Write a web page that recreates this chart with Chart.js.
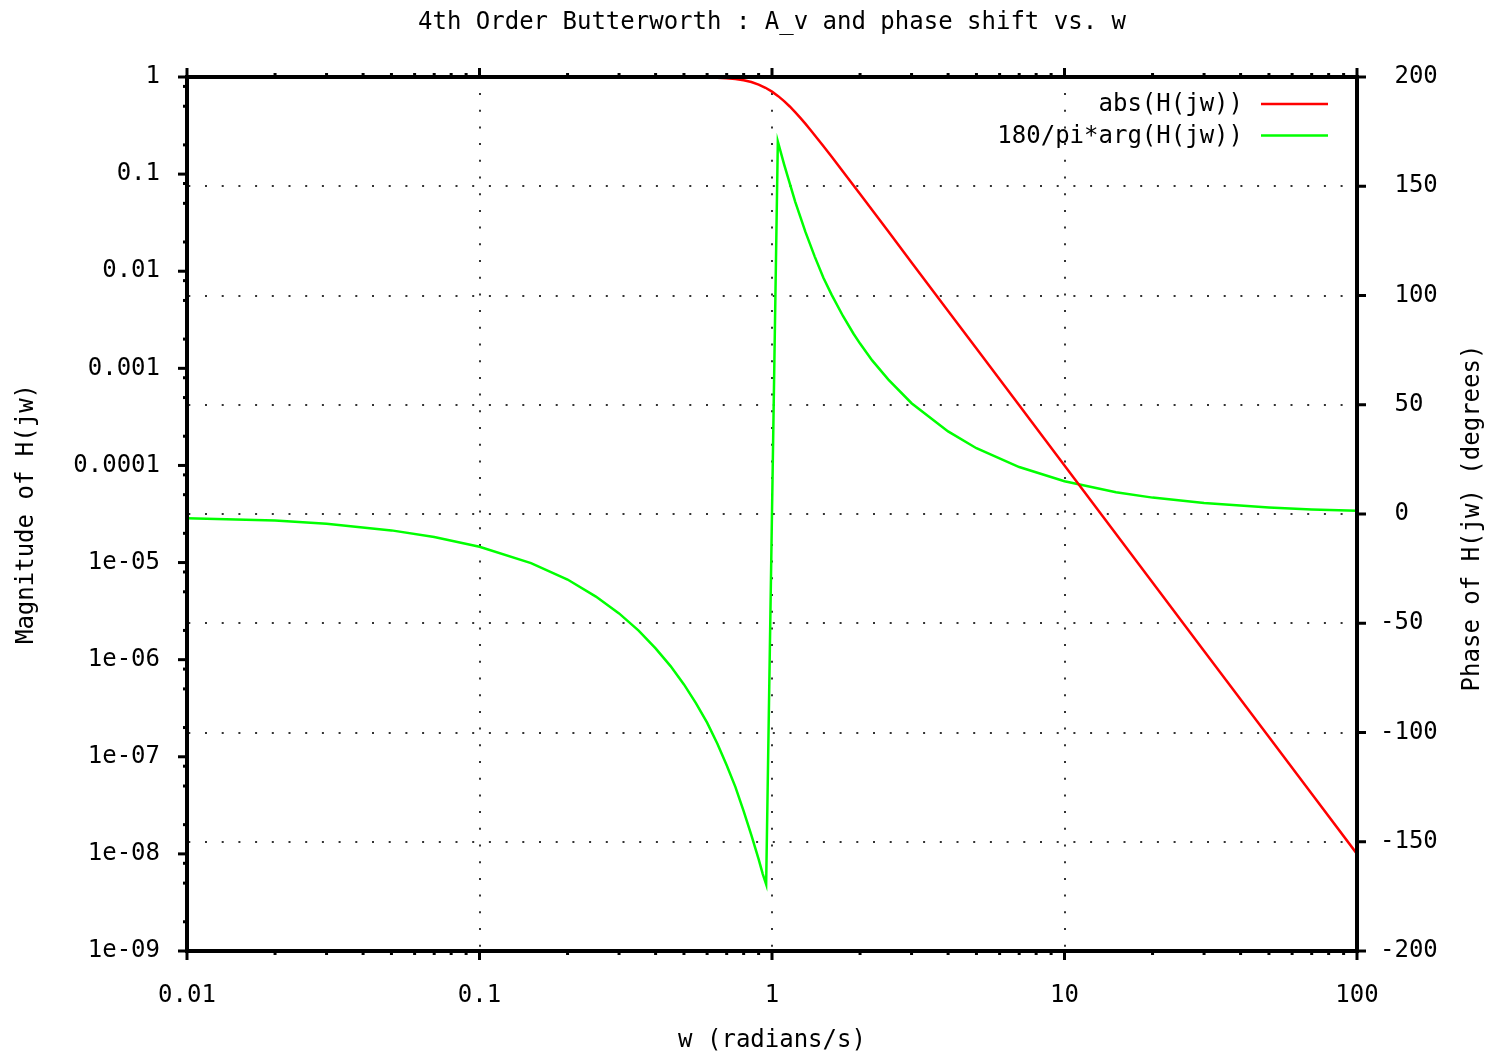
<!DOCTYPE html>
<html>
<head>
<meta charset="utf-8">
<script src="https://cdn.jsdelivr.net/npm/chart.js@4/dist/chart.umd.min.js"></script>
<style>
  body { margin: 0; background: #fff; }
  canvas { display: block; }
</style>
</head>
<body>
<canvas id="bode" width="1501" height="1056"></canvas>
<script>
// values
const magOmega = [0.52, 0.6, 0.65, 0.7, 0.75, 0.8, 0.85, 0.9, 0.95, 1, 1.05, 1.1, 1.15, 1.2, 1.25, 1.3, 1.35, 1.5, 1.6, 1.75, 2, 2.5, 3, 4, 5, 7, 10, 20, 30, 50, 70, 100]
const magnitude = [0.998, 0.992, 0.984, 0.972, 0.954, 0.925, 0.887, 0.836, 0.775, 0.707, 0.635, 0.564, 0.497, 0.434, 0.379, 0.331, 0.288, 0.194, 0.151, 0.106, 0.0624, 0.0256, 0.0123, 0.0039, 0.0016, 4.16e-4, 1e-4, 6.25e-6, 1.23e-6, 1.6e-7, 4.16e-8, 1e-8]

const phaseOmega = [0.01, 0.02, 0.03, 0.05, 0.07, 0.1, 0.15, 0.2, 0.25, 0.3, 0.35, 0.4, 0.45, 0.5, 0.55, 0.6, 0.65, 0.7, 0.75, 0.8, 0.85, 0.9, 0.93, 0.955, 1.047, 1.1, 1.15, 1.2, 1.25, 1.3, 1.4, 1.5, 1.6, 1.75, 1.9, 2, 2.2, 2.5, 3, 4, 5, 7, 10, 15, 20, 30, 50, 70, 100]
const phaseDeg = [-2, -3, -4.5, -7.5, -10.5, -15, -22.5, -30, -37.8, -45.5, -53.4, -61.5, -69.6, -78, -86.7, -95.5, -105, -115, -125, -136, -147, -158, -164.8, -169.5, 170.5, 160, 151.3, 143, 136, 129.2, 117.8, 108, 100.3, 90.5, 82.5, 78, 70.3, 61.5, 50.7, 37.8, 30.1, 21.5, 15, 10, 7.5, 5, 3, 2.1, 1.5]

const xTickValues = [0.01, 0.1, 1, 10, 100]
const xTickText = ['0.01', '0.1', '1', '10', '100']
const xMinorSteps = [2, 3, 4, 5, 6, 7, 8, 9]

const yTickValues = [1e-9, 1e-8, 1e-7, 1e-6, 1e-5, 1e-4, 1e-3, 1e-2, 1e-1, 1]
const yTickText = ['1e-09', '1e-08', '1e-07', '1e-06', '1e-05', '0.0001', '0.001', '0.01', '0.1', '1']
const yMinorSteps = [2, 5, 8]

const phaseTicks = [-200, -150, -100, -50, 0, 50, 100, 150, 200]

const titleText = '4th Order Butterworth : A_v and phase shift vs. w'
const xTitle = 'w (radians/s)'
const yTitle = 'Magnitude of H(jw)'
const y2Title = 'Phase of H(jw) (degrees)'

const mono = 'DejaVu Sans Mono'
const font24 = { family: mono, size: 24, weight: 'normal' }
const dots = [2, 14.7]

// gnuplot-like frame, tick marks, title, right axis title and key
const gnuFrame = {
  id: 'gnuFrame',
  afterDraw(chart) {
    const c = chart.ctx
    const a = chart.chartArea
    const sx = chart.scales.x, sy = chart.scales.y, sy2 = chart.scales.y2
    c.save()
    c.strokeStyle = '#000'
    c.lineWidth = 3
    const tick = (x1, y1, x2, y2) => { c.beginPath(); c.moveTo(x1, y1); c.lineTo(x2, y2); c.stroke() }

    xTickValues.forEach((v, i) => {
      const px = sx.getPixelForValue(v)
      tick(px, a.bottom, px, a.bottom + 9)
      tick(px, a.top, px, a.top - 9)
      if (i < xTickValues.length - 1) {
        xMinorSteps.forEach(m => {
          const mx = sx.getPixelForValue(v * m)
          tick(mx, a.bottom, mx, a.bottom + 4)
          tick(mx, a.top, mx, a.top - 4)
        })
      }
    })
    yTickValues.forEach((v, i) => {
      const py = sy.getPixelForValue(v)
      tick(a.left, py, a.left - 9, py)
      if (i < yTickValues.length - 1) {
        yMinorSteps.forEach(m => {
          const my = sy.getPixelForValue(v * m)
          tick(a.left, my, a.left - 4, my)
        })
      }
    })
    phaseTicks.forEach(v => {
      const py = sy2.getPixelForValue(v)
      tick(a.right, py, a.right + 9, py)
    })

    c.lineWidth = 4
    c.strokeRect(a.left, a.top, a.right - a.left, a.bottom - a.top)

    c.font = '24px "' + mono + '"'
    c.fillStyle = '#000'
    c.textAlign = 'center'
    c.textBaseline = 'middle'
    c.fillText(titleText, (a.left + a.right) / 2, 23)

    c.save()
    c.translate(1473, (a.top + a.bottom) / 2 + 4)
    c.rotate(-Math.PI / 2)
    c.fillText(y2Title, 0, 0)
    c.restore()

    // key, top right inside the plot
    c.textAlign = 'right'
    chart.data.datasets.forEach((ds, i) => {
      const ky = a.top + 27 + i * 31.5
      c.fillStyle = '#000'
      c.fillText(ds.label, 1243, ky + 1)
      c.strokeStyle = ds.borderColor
      c.lineWidth = 2.5
      tick(1261, ky, 1328, ky)
    })
    c.restore()
  }
}

const ctx = document.getElementById('bode')
new Chart(ctx, {
  type: 'scatter',
  data: {
    datasets: [{
      label: 'abs(H(jw))',
      data: magOmega.map((w, i) => ({ x: w, y: magnitude[i] })),
      yAxisID: 'y',
      borderColor: '#ff0000',
      borderWidth: 2.5,
      showLine: true,
      pointRadius: 0,
      tension: 0
    }, {
      label: '180/pi*arg(H(jw))',
      data: phaseOmega.map((w, i) => ({ x: w, y: phaseDeg[i] })),
      yAxisID: 'y2',
      borderColor: '#00ff00',
      borderWidth: 2.5,
      showLine: true,
      pointRadius: 0,
      tension: 0
    }]
  },
  options: {
    responsive: false,
    animation: false,
    layout: { padding: { top: 77, left: 0, right: 0, bottom: 0 } },
    plugins: {
      legend: { display: false },
      tooltip: { enabled: false },
      title: { display: false }
    },
    scales: {
      x: {
        type: 'logarithmic',
        position: 'bottom',
        min: 0.01,
        max: 100,
        afterBuildTicks: s => { s.ticks = xTickValues.map(v => ({ value: v })) },
        afterFit: s => { s.height = 105 },
        ticks: {
          color: '#000',
          font: font24,
          padding: 30,
          maxRotation: 0,
          autoSkip: false,
          callback: (v, i) => xTickText[i]
        },
        grid: {
          drawTicks: false,
          lineWidth: 2,
          color: c => (c.tick && c.tick.value > 0.01 && c.tick.value < 100) ? '#333' : 'rgba(0,0,0,0)',
          borderDash: dots
        },
        border: { display: false, dash: dots, dashOffset: -16 },
        title: { display: true, text: xTitle, color: '#000', font: font24, padding: { top: 0, bottom: 1 } }
      },
      y: {
        type: 'logarithmic',
        position: 'left',
        min: 1e-9,
        max: 1,
        afterBuildTicks: s => { s.ticks = yTickValues.map(v => ({ value: v })) },
        afterFit: s => { s.width = 187 },
        ticks: {
          color: '#000',
          font: font24,
          padding: 27,
          autoSkip: false,
          callback: (v, i) => yTickText[i]
        },
        grid: { drawTicks: false, drawOnChartArea: false },
        border: { display: false },
        title: { display: true, text: yTitle, color: '#000', font: font24, padding: { top: 12.6, bottom: 0 } }
      },
      y2: {
        type: 'linear',
        position: 'right',
        min: -200,
        max: 200,
        afterBuildTicks: s => { s.ticks = phaseTicks.map(v => ({ value: v })) },
        afterFit: s => { s.width = 144 },
        ticks: {
          color: '#000',
          font: font24,
          padding: 23,
          autoSkip: false,
          callback: v => (v >= 0 ? ' ' + v : String(v))
        },
        grid: {
          drawTicks: false,
          lineWidth: 2,
          color: c => (c.tick && c.tick.value > -200 && c.tick.value < 200) ? '#333' : 'rgba(0,0,0,0)',
          borderDash: dots
        },
        border: { display: false, dash: dots, dashOffset: -18 },
        title: { display: false }
      }
    }
  },
  plugins: [gnuFrame]
})
</script>
</body>
</html>
